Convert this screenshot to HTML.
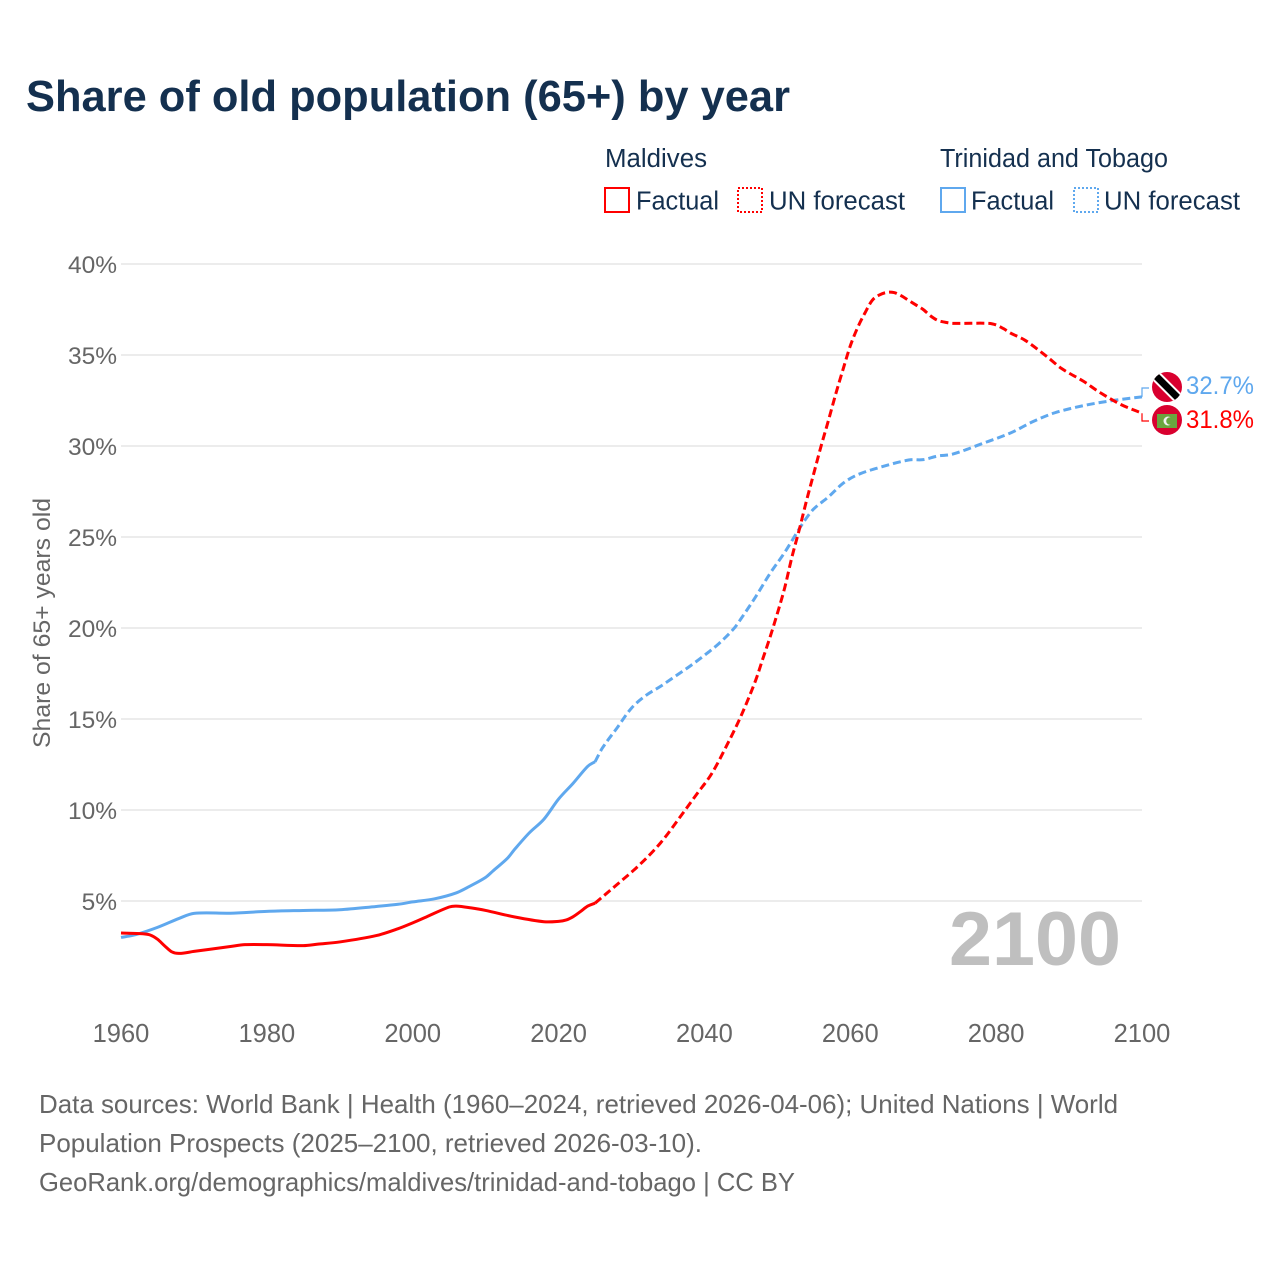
<!DOCTYPE html>
<html lang="en">
<head>
<meta charset="utf-8">
<title>Share of old population (65+) by year</title>
<style>
html,body{margin:0;padding:0;background:#fff;width:1280px;height:1280px;overflow:hidden}
svg{display:block}
text{font-family:"Liberation Sans",sans-serif}
</style>
</head>
<body>
<svg id="chart" width="1280" height="1280" viewBox="0 0 1280 1280">
<rect width="1280" height="1280" fill="#fff"/>
<text x="26" y="111" font-size="44" font-weight="700" fill="#14304f" textLength="764" lengthAdjust="spacingAndGlyphs">Share of old population (65+) by year</text>

<g>
<text x="605" y="167" font-size="25.5" fill="#14304f" textLength="102" lengthAdjust="spacingAndGlyphs">Maldives</text>
<rect x="605" y="188" width="24" height="24" fill="none" stroke="#ff0000" stroke-width="2" shape-rendering="crispEdges"/>
<text x="636" y="209.5" font-size="25.5" fill="#14304f" textLength="83" lengthAdjust="spacingAndGlyphs">Factual</text>
<rect x="738" y="188" width="24" height="24" fill="none" stroke="#ff0000" stroke-width="2" stroke-dasharray="2 2" shape-rendering="crispEdges"/>
<text x="769" y="209.5" font-size="25.5" fill="#14304f" textLength="136" lengthAdjust="spacingAndGlyphs">UN forecast</text>
<text x="940" y="167" font-size="25.5" fill="#14304f" textLength="228" lengthAdjust="spacingAndGlyphs">Trinidad and Tobago</text>
<rect x="941" y="188" width="24" height="24" fill="none" stroke="#5fa8ee" stroke-width="2" shape-rendering="crispEdges"/>
<text x="971" y="209.5" font-size="25.5" fill="#14304f" textLength="83" lengthAdjust="spacingAndGlyphs">Factual</text>
<rect x="1074" y="188" width="24" height="24" fill="none" stroke="#5fa8ee" stroke-width="2" stroke-dasharray="2 2" shape-rendering="crispEdges"/>
<text x="1104" y="209.5" font-size="25.5" fill="#14304f" textLength="136" lengthAdjust="spacingAndGlyphs">UN forecast</text>
</g>

<g id="grid"></g>
<g id="yticks"></g>
<g id="xticks"></g>
<text transform="translate(50,623) rotate(-90)" text-anchor="middle" font-size="24.5" fill="#666" textLength="250" lengthAdjust="spacingAndGlyphs">Share of 65+ years old</text>

<text x="949" y="965" font-size="76" font-weight="700" fill="#bfbfbf" textLength="172" lengthAdjust="spacingAndGlyphs">2100</text>

<g id="series"></g>

<g>
<clipPath id="clipTT"><circle cx="1167" cy="387" r="15"/></clipPath>
<circle cx="1167" cy="387" r="15" fill="#d9002f"/>
<line x1="1153" y1="373" x2="1181" y2="401" clip-path="url(#clipTT)" stroke="#fff" stroke-width="11"/>
<line x1="1153" y1="373" x2="1181" y2="401" clip-path="url(#clipTT)" stroke="#000" stroke-width="7"/>
</g>
<g>
<circle cx="1167" cy="420" r="15" fill="#d9002f"/>
<rect x="1157" y="414" width="20" height="14" fill="#6aa53f"/>
<circle cx="1168" cy="421" r="4.5" fill="#f2f2f2"/>
<circle cx="1170" cy="421" r="3.8" fill="#6aa53f"/>
</g>

<g>
<text x="39" y="1113" font-size="26" fill="#666" textLength="1079" lengthAdjust="spacingAndGlyphs">Data sources: World Bank | Health (1960–2024, retrieved 2026-04-06); United Nations | World</text>
<text x="39" y="1152" font-size="26" fill="#666" textLength="663" lengthAdjust="spacingAndGlyphs">Population Prospects (2025–2100, retrieved 2026-03-10).</text>
<text x="39" y="1191" font-size="26" fill="#666" textLength="756" lengthAdjust="spacingAndGlyphs">GeoRank.org/demographics/maldives/trinidad-and-tobago | CC BY</text>
</g>
</svg>
<script>
const yTickValues = [5, 10, 15, 20, 25, 30, 35, 40];
const xTickValues = [1960, 1980, 2000, 2020, 2040, 2060, 2080, 2100];

const maldivesFactualYears = [1960,1963,1964,1965,1966,1967,1968,1970,1975,1977,1980,1985,1987,1990,1995,1998,2000,2002,2005,2006,2008,2010,2014,2018,2020,2021,2022,2023,2024,2025];
const maldivesFactualValues = [3.24,3.2,3.13,2.9,2.53,2.2,2.12,2.23,2.5,2.6,2.6,2.55,2.63,2.75,3.1,3.48,3.8,4.15,4.67,4.72,4.62,4.48,4.12,3.86,3.88,3.95,4.14,4.42,4.72,4.88];
const maldivesForecastYears = [2025,2028,2031,2034,2037,2039,2041,2043,2045,2047,2048,2049,2050,2051,2052,2053,2054,2055,2056,2057,2058,2059,2060,2061,2062,2063,2064,2065,2066,2067,2068,2069,2070,2071,2072,2073,2074,2079,2080,2081,2082,2084,2087,2089,2092,2094,2097,2100];
const maldivesForecastValues = [4.88,5.9,6.95,8.2,9.8,10.9,12,13.5,15.15,17.1,18.3,19.5,20.8,22.2,23.9,25.4,27,28.5,30,31.4,32.85,34.2,35.5,36.5,37.3,38,38.3,38.44,38.43,38.25,38,37.75,37.5,37.15,36.9,36.8,36.74,36.74,36.65,36.45,36.2,35.8,34.9,34.25,33.55,33,32.3,31.8];

const trinidadFactualYears = [1960,1962,1965,1968,1970,1975,1980,1985,1990,1995,1998,2000,2003,2006,2008,2010,2011,2013,2014,2016,2018,2020,2022,2024,2025];
const trinidadFactualValues = [3.0,3.15,3.55,4.05,4.32,4.33,4.43,4.48,4.52,4.7,4.82,4.95,5.12,5.45,5.85,6.3,6.65,7.35,7.85,8.75,9.5,10.6,11.47,12.4,12.65];
const trinidadForecastYears = [2025,2026,2028,2030,2032,2034,2036,2038,2040,2042,2044,2045,2047,2049,2051,2053,2054,2055,2057,2059,2061,2064,2068,2070,2072,2074,2078,2082,2085,2088,2092,2096,2100];
const trinidadForecastValues = [12.65,13.4,14.5,15.6,16.3,16.8,17.35,17.9,18.5,19.15,19.95,20.5,21.7,23,24.15,25.45,26.05,26.55,27.2,27.95,28.42,28.82,29.23,29.25,29.45,29.55,30.12,30.72,31.33,31.82,32.22,32.5,32.7];

const NS = 'http://www.w3.org/2000/svg';
const xScale = function (year) { return 121 + (year - 1960) * (1142 - 121) / 140; };
const yScale = function (value) { return 992 - value * 18.2; };

function make(tag, parent, attrs) {
  const el = document.createElementNS(NS, tag);
  Object.keys(attrs).forEach(function (k) { el.setAttribute(k, attrs[k]); });
  parent.appendChild(el);
  return el;
}

function smoothPath(years, values) {
  const p = years.map(function (y, i) { return [xScale(y), yScale(values[i])]; });
  let d = 'M' + p[0][0].toFixed(2) + ' ' + p[0][1].toFixed(2);
  for (let i = 0; i < p.length - 1; i++) {
    const a = p[Math.max(i - 1, 0)], b = p[i], c = p[i + 1], e = p[Math.min(i + 2, p.length - 1)];
    const s = (c[0] - b[0]);
    const k1 = s / (c[0] - a[0]) / 3, k2 = s / (e[0] - b[0]) / 3;
    const c1x = b[0] + (c[0] - a[0]) * k1, c1y = b[1] + (c[1] - a[1]) * k1;
    const c2x = c[0] - (e[0] - b[0]) * k2, c2y = c[1] - (e[1] - b[1]) * k2;
    d += 'C' + c1x.toFixed(2) + ' ' + c1y.toFixed(2) + ' ' + c2x.toFixed(2) + ' ' + c2y.toFixed(2) + ' ' + c[0].toFixed(2) + ' ' + c[1].toFixed(2);
  }
  return d;
}

const gridGroup = document.getElementById('grid');
const yGroup = document.getElementById('yticks');
yTickValues.forEach(function (v) {
  const line = make('line', gridGroup, { x1: 121, x2: 1142, y1: yScale(v), y2: yScale(v), stroke: '#e6e6e6', 'stroke-width': 1.5 });
  
  
  const t = make('text', yGroup, { x: 117, y: yScale(v) + 9, 'text-anchor': 'end', 'font-size': 24.5, fill: '#666' });
  
  
  t.textContent = v + '%';
});

const xGroup = document.getElementById('xticks');
xTickValues.forEach(function (v) {
  const t = make('text', xGroup, { x: xScale(v), y: 1042, 'text-anchor': 'middle', 'font-size': 25.5, fill: '#666' });
  
  
  t.textContent = v;
});

const seriesGroup = document.getElementById('series');
const RED = '#ff0000', BLUE = '#5fa8ee';

const trinidadFactualLine = make('path', seriesGroup, { d: smoothPath(trinidadFactualYears, trinidadFactualValues), fill: 'none', stroke: BLUE, 'stroke-width': 3, 'stroke-linejoin': 'round' });



const trinidadForecastLine = make('path', seriesGroup, { d: smoothPath(trinidadForecastYears, trinidadForecastValues), fill: 'none', stroke: BLUE, 'stroke-width': 3, 'stroke-dasharray': '8 4' });



const maldivesFactualLine = make('path', seriesGroup, { d: smoothPath(maldivesFactualYears, maldivesFactualValues), fill: 'none', stroke: RED, 'stroke-width': 3, 'stroke-linejoin': 'round' });



const maldivesForecastLine = make('path', seriesGroup, { d: smoothPath(maldivesForecastYears, maldivesForecastValues), fill: 'none', stroke: RED, 'stroke-width': 3, 'stroke-dasharray': '8 4' });



const trinidadEnd = trinidadForecastValues[trinidadForecastValues.length - 1];
const maldivesEnd = maldivesForecastValues[maldivesForecastValues.length - 1];

const trinidadConnector = make('path', seriesGroup, { d: 'M1142 ' + yScale(trinidadEnd) + 'V388H1149', fill: 'none', stroke: BLUE, 'stroke-width': 1.2 });



const maldivesConnector = make('path', seriesGroup, { d: 'M1142 ' + yScale(maldivesEnd) + 'V421H1149', fill: 'none', stroke: RED, 'stroke-width': 1.2 });



const trinidadLabel = make('text', seriesGroup, { x: 1186, y: 394, 'font-size': 25, fill: BLUE, textLength: 68, lengthAdjust: 'spacingAndGlyphs' });


trinidadLabel.textContent = trinidadEnd.toFixed(1) + '%';

const maldivesLabel = make('text', seriesGroup, { x: 1186, y: 428, 'font-size': 25, fill: RED, textLength: 68, lengthAdjust: 'spacingAndGlyphs' });


maldivesLabel.textContent = maldivesEnd.toFixed(1) + '%';
</script>
</body>
</html>
